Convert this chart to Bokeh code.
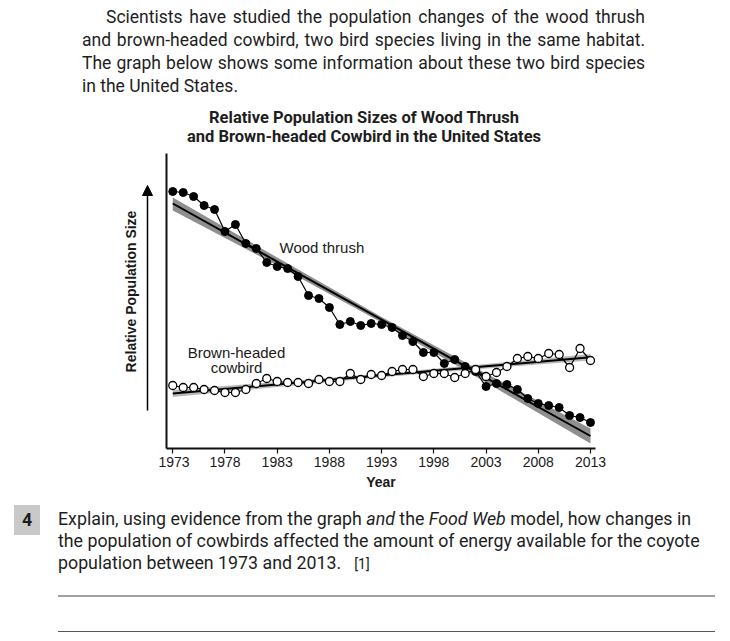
import math
from bokeh.plotting import figure
from bokeh.models import Range1d, FixedTicker, Arrow, NormalHead, Div
from bokeh.layouts import column, row
from bokeh.core.properties import value
from bokeh.embed import file_html
from bokeh.resources import INLINE

# ---------------- data ----------------
years = list(range(1973, 2014))
wood_thrush = [257, 256, 252, 243, 239, 217, 224, 205, 200, 186, 182, 180, 172, 153,
               150, 141, 124, 127, 123, 125, 124, 121, 113, 107, 96, 96, 85, 89, 82, 77,
               62, 65, 64, 59, 50, 45, 43, 41, 33, 31, 26]
cowbird = [63, 61, 61, 59, 58, 56, 56, 59, 65, 70, 67, 66, 66, 65, 69, 67, 67, 75, 69,
           74, 73, 77, 79, 79, 72, 75, 75, 71, 75, 79, 72, 76, 82, 90, 92, 90, 95, 94,
           81, 100, 88]
tick_years = [1973, 1978, 1983, 1988, 1993, 1998, 2003, 2008, 2013]

band_years = [1973, 1983, 1993, 2003, 2013]
thrush_trend = [245, 186.9, 128.8, 70.6, 12.5]
thrush_upper = [251, 191, 131.5, 75, 20]
thrush_lower = [238, 183, 126, 66, 5]
cowbird_trend = [55, 64.1, 73.2, 82.2, 91.3]
cowbird_upper = [58.5, 66.5, 75, 84.5, 94.5]
cowbird_lower = [51.5, 61.5, 71.3, 80, 88]

FONT = "Liberation Sans"
BODY = "Roboto"

# ---------------- main chart ----------------
x0, x1 = 1972.4, 2013.48
p = figure(width=564, height=355, x_range=Range1d(x0, x1), y_range=Range1d(0, 295),
           output_backend="svg", toolbar_location=None,
           min_border_left=8, min_border_right=127, min_border_top=8, min_border_bottom=52)
p.margin = 0
p.outline_line_color = None
p.xgrid.visible = False
p.ygrid.visible = False

xa = p.xaxis[0]
xa.ticker = FixedTicker(ticks=tick_years)
xa.major_tick_in = 0
xa.major_tick_out = 5
xa.minor_tick_line_color = None
xa.axis_line_width = 2
xa.axis_line_color = "#111111"
xa.major_tick_line_color = "#111111"
xa.major_tick_line_width = 1.2
xa.major_label_text_font = FONT
xa.major_label_text_font_size = "14px"
xa.major_label_text_color = "#1a1a1a"
xa.major_label_standoff = 3
xa.axis_label = "Year"
xa.axis_label_text_font = FONT
xa.axis_label_text_font_style = "bold"
xa.axis_label_text_font_size = "14px"
xa.axis_label_text_color = "#1a1a1a"
xa.axis_label_standoff = 4

ya = p.yaxis[0]
ya.ticker = FixedTicker(ticks=[])
ya.major_label_text_font_size = "0px"
ya.major_label_standoff = 0
ya.major_tick_out = 0
ya.minor_tick_out = 0
ya.major_tick_line_color = None
ya.minor_tick_line_color = None
ya.axis_line_width = 2
ya.axis_line_color = "#111111"

# trend bands and lines
p.varea(x=band_years, y1=thrush_lower, y2=thrush_upper, fill_color="#8f8f8f")
p.varea(x=band_years, y1=cowbird_lower, y2=cowbird_upper, fill_color="#b8b8b8")
p.line(band_years, thrush_trend, line_color="black", line_width=2)
p.line(band_years, cowbird_trend, line_color="black", line_width=2)

# data series
p.line(years, wood_thrush, line_color="black", line_width=1.2)
p.scatter(years, wood_thrush, size=8, fill_color="black", line_color="black")
p.line(years, cowbird, line_color="black", line_width=1.2)
p.scatter(years, cowbird, size=8, fill_color="white", line_color="black", line_width=1.3)

pxy = (x1 - x0) / 429.0  # years per pixel
p.text(x=[x0 + (279 - 166) * pxy], y=[448 - 247], text=["Wood thrush"],
       text_font=value(FONT), text_font_size="15px", text_color="#1a1a1a",
       text_align="left", text_baseline="middle")
p.text(x=[x0 + (236 - 166) * pxy] * 2, y=[448 - 352, 448 - 367],
       text=["Brown-headed", "cowbird"],
       text_font=value(FONT), text_font_size="15px", text_color="#1a1a1a",
       text_align="center", text_baseline="middle")

# ---------------- left strip: y label and arrow ----------------
pl = figure(width=150, height=355, x_range=Range1d(8, 158), y_range=Range1d(0, 295),
            output_backend="svg", toolbar_location=None,
            x_axis_location=None, y_axis_location=None,
            min_border_left=0, min_border_right=0, min_border_top=8, min_border_bottom=52)
pl.margin = 0
pl.outline_line_color = None
pl.xgrid.visible = False
pl.ygrid.visible = False
pl.text(x=[130], y=[448 - 291], text=["Relative Population Size"], angle=math.pi / 2,
        text_font=value(FONT), text_font_size="14px", text_font_style="bold",
        text_color="#1a1a1a", text_align="center", text_baseline="middle")
pl.add_layout(Arrow(x_start=147, y_start=448 - 410, x_end=147, y_end=448 - 185,
                    line_width=1.5, line_color="black",
                    end=NormalHead(size=10, fill_color="black", line_color="black")))

# ---------------- surrounding text ----------------
just = "text-align:justify;text-align-last:justify;white-space:nowrap;"
top_html = f"""
<div style="position:relative;width:714px;height:137px;font-family:'{BODY}';font-size:17.5px;color:#1e1e1e;">
  <div style="position:absolute;left:74px;top:-2.5px;width:563px;line-height:23px;">
    <div style="{just}padding-left:24px;">Scientists have studied the population changes of the wood thrush</div>
    <div style="{just}">and brown-headed cowbird, two bird species living in the same habitat.</div>
    <div style="{just}">The graph below shows some information about these two bird species</div>
    <div style="white-space:nowrap;">in the United States.</div>
  </div>
  <div style="position:absolute;left:106px;top:99.5px;width:500px;text-align:center;font-weight:bold;font-size:16.5px;line-height:19px;white-space:nowrap;">Relative Population Sizes of Wood Thrush<br>and Brown-headed Cowbird in the United States</div>
</div>
"""
bottom_html = f"""
<div style="position:relative;width:714px;height:133px;font-family:'{BODY}';font-size:17.8px;color:#1e1e1e;">
  <div style="position:absolute;left:6px;top:5px;width:26px;height:30px;background:#c9c9c9;font-weight:bold;text-align:center;line-height:30px;">4</div>
  <div style="position:absolute;left:50px;top:8px;line-height:22px;white-space:nowrap;">Explain, using evidence from the graph <i>and</i> the <i>Food Web</i> model, how changes in<br>the population of cowbirds affected the amount of energy available for the coyote<br>population between 1973 and 2013.&nbsp;&nbsp;&nbsp;<span style="font-size:14px;">[1]</span></div>
  <div style="position:absolute;left:50px;top:95px;width:657px;height:2px;background:#a0a0a0;"></div>
  <div style="position:absolute;left:50px;top:131px;width:657px;height:1px;background:#555555;"></div>
</div>
"""
div_top = Div(text=top_html, width=714, height=137, margin=0)
div_bottom = Div(text=bottom_html, width=714, height=133, margin=0)

layout = column(div_top, row(pl, p, spacing=0, margin=0), div_bottom,
                spacing=0, margin=(8, 0, 0, 8))
open("out.html", "w").write(file_html(layout, INLINE))
